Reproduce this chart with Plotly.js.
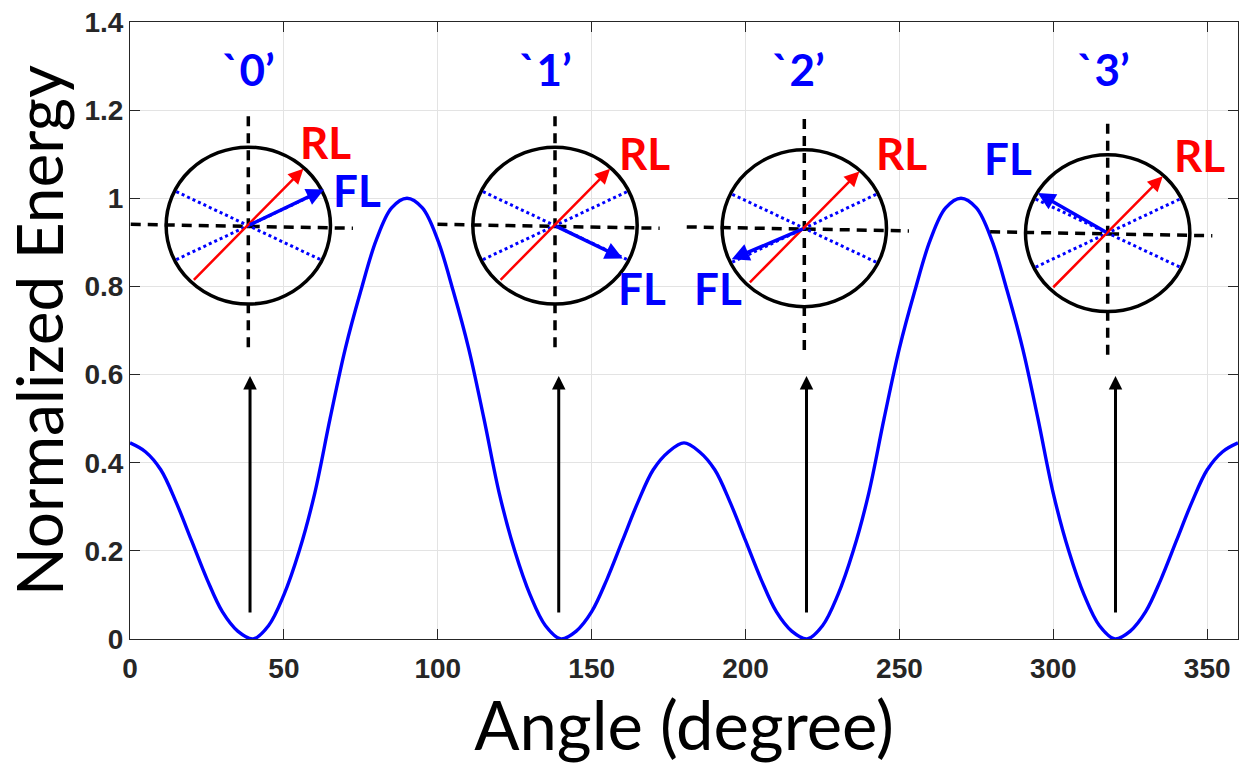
<!DOCTYPE html>
<html><head><meta charset="utf-8">
<script src="https://cdn.plot.ly/plotly-3.0.1.min.js"></script>
<style>html,body{margin:0;padding:0;background:#fff}</style>
</head><body>
<div id="chart" style="width:1244px;height:767px"></div>
<script>
// ---- data ----
const angleDeg = [0,5,10,15,20,25,30,35,40,45,50,55,60,65,70,75,80,85,90,
  95,100,105,110,115,120,125,130,135,140,145,150,155,160,165,170,175,180,
  185,190,195,200,205,210,215,220,225,230,235,240,245,250,255,260,265,270,
  275,280,285,290,295,300,305,310,315,320,325,330,335,340,345,350,355,360];
const normEnergy = [0.445,0.425,0.384,0.31,0.223,0.136,0.062,0.018,0.0,0.03,0.10,0.20,0.33,0.50,0.66,0.79,0.905,0.978,1.0,
  0.978,0.905,0.79,0.66,0.50,0.33,0.20,0.10,0.03,0.0,0.018,0.062,0.136,0.223,0.31,0.384,0.425,0.445,
  0.425,0.384,0.31,0.223,0.136,0.062,0.018,0.0,0.03,0.10,0.20,0.33,0.50,0.66,0.79,0.905,0.978,1.0,
  0.978,0.905,0.79,0.66,0.50,0.33,0.20,0.10,0.03,0.0,0.018,0.062,0.136,0.223,0.31,0.384,0.425,0.445];
const xTickVals = [0,50,100,150,200,250,300,350];
const yTickVals = [0,0.2,0.4,0.6,0.8,1,1.2,1.4];
const yTickText = ['0','0.2','0.4','0.6','0.8','1','1.2','1.4'];
const stateLabels = ['`0’','`1’','`2’','`3’'];
const stateAngles = [39.0,139.3,219.8,320.2];   // black arrows
const arrowBottom = 0.057, arrowTop = 0.597;
// inset diagrams (centre in data coords)
const insetCx = [38.44,138.09,219.09,317.66];
const insetCy = [0.938,0.938,0.932,0.921];
const labelX = [38.66,134.9,217.13,316.23];
const rlX = [63.36,167.1,250.73,347.42], rlY = [1.128,1.102,1.102,1.098];
const flX = [73.66,166.25,191.14,285.17], flY = [1.019,0.796,0.796,1.091];
const flDx = [24.6,22.0,-23.59,-22.74];      // FL arrow tip offset (deg)
const flDy = [0.0821,-0.0744,-0.0703,0.0908]; // FL arrow tip offset (energy)
const flAx = [-75.7,-67.7,72.6,70], flAy = [36.2,-32.8,-31,40]; // tail offsets px

const BLUE='#0000ff', RED='#ff0000';
const labFont = {family:'Lato, "Open Sans", sans-serif', size:44, weight:700};

const shapes=[], annotations=[];
const rx=26.7, ry=0.178;
for(let i=0;i<4;i++){
  const cx=insetCx[i], cy=insetCy[i];
  // horizontal dashed
  shapes.push({type:'line',xref:'x',yref:'y',x0:cx-38.2,y0:cy+0.003,x1:cx+34,y1:cy-0.006,
    line:{color:'#000',width:3.5,dash:'10px,7px'}});
  // vertical dashed
  shapes.push({type:'line',xref:'x',yref:'y',x0:cx,y0:cy+0.248,x1:cx,y1:cy-0.283,
    line:{color:'#000',width:3.5,dash:'10px,7px'}});
  // circle
  shapes.push({type:'circle',xref:'x',yref:'y',x0:cx-rx,x1:cx+rx,y0:cy-ry,y1:cy+ry,
    line:{color:'#000',width:3.5}});
  // dotted lines
  shapes.push({type:'line',xref:'x',yref:'y',x0:cx-23.4,y0:cy+0.0771,x1:cx+23.4,y1:cy-0.0771,
    line:{color:BLUE,width:3,dash:'dot'}});
  shapes.push({type:'line',xref:'x',yref:'y',x0:cx-23.4,y0:cy-0.0771,x1:cx+23.4,y1:cy+0.0771,
    line:{color:BLUE,width:3,dash:'dot'}});
  // red arrow
  annotations.push({x:cx+17.9,y:cy+0.129,xref:'x',yref:'y',ax:-111,ay:112.5,text:'',
    showarrow:true,arrowhead:2,arrowsize:1.2,arrowwidth:2.5,arrowcolor:RED,standoff:0,startstandoff:0});
  // FL arrow
  annotations.push({x:cx+flDx[i],y:cy+flDy[i],xref:'x',yref:'y',ax:flAx[i],ay:flAy[i],text:'',
    showarrow:true,arrowhead:2,arrowsize:1.0,arrowwidth:3.5,arrowcolor:BLUE,standoff:0,startstandoff:0});
  // labels
  annotations.push({x:rlX[i],y:rlY[i],xref:'x',yref:'y',text:'RL',showarrow:false,
    font:Object.assign({},labFont,{color:RED}),xanchor:'center',yanchor:'middle'});
  annotations.push({x:flX[i],y:flY[i],xref:'x',yref:'y',text:'FL',showarrow:false,
    font:Object.assign({},labFont,{color:BLUE}),xanchor:'center',yanchor:'middle'});
  annotations.push({x:labelX[i],y:1.293,xref:'x',yref:'y',text:stateLabels[i],showarrow:false,
    font:Object.assign({},labFont,{color:BLUE}),xanchor:'center',yanchor:'middle'});
  // black upward arrow
  annotations.push({x:stateAngles[i],y:arrowTop,ax:stateAngles[i],ay:arrowBottom,xref:'x',yref:'y',
    axref:'x',ayref:'y',text:'',showarrow:true,arrowhead:2,arrowsize:0.9,arrowwidth:3,
    arrowcolor:'#000',standoff:0,startstandoff:0});
}

const tickFont = {family:'"Liberation Sans", Arial, sans-serif', size:28, weight:700, color:'#262626'};

const trace = {x:angleDeg,y:normEnergy,type:'scatter',mode:'lines',
  line:{color:BLUE,width:3.4,shape:'spline',smoothing:1},hoverinfo:'skip'};

const layout = {
  width:1244,height:767,margin:{l:130,r:6,t:22,b:128},
  paper_bgcolor:'#fff',plot_bgcolor:'#fff',showlegend:false,
  xaxis:{range:[0,360],tickvals:xTickVals,ticks:'inside',ticklen:10,tickcolor:'#262626',
    showline:true,linecolor:'#262626',linewidth:1,mirror:'ticks',showgrid:true,gridcolor:'#e3e3e3',
    zeroline:false,tickfont:tickFont,ticklabelstandoff:4,
    title:{text:'Angle (degree)',font:{family:'Lato, "Open Sans", sans-serif',size:67,color:'#000'},standoff:14}},
  yaxis:{range:[0,1.4],tickvals:yTickVals,ticktext:yTickText,ticks:'inside',ticklen:10,tickcolor:'#262626',
    showline:true,linecolor:'#262626',linewidth:1,mirror:'ticks',showgrid:true,gridcolor:'#e3e3e3',
    zeroline:false,tickfont:tickFont,
    title:{text:'Normalized Energy',font:{family:'Lato, "Open Sans", sans-serif',size:64,color:'#000'},standoff:6}},
  shapes:shapes,annotations:annotations
};
Plotly.newPlot('chart',[trace],layout,{staticPlot:true,displayModeBar:false});
</script>
</body></html>
